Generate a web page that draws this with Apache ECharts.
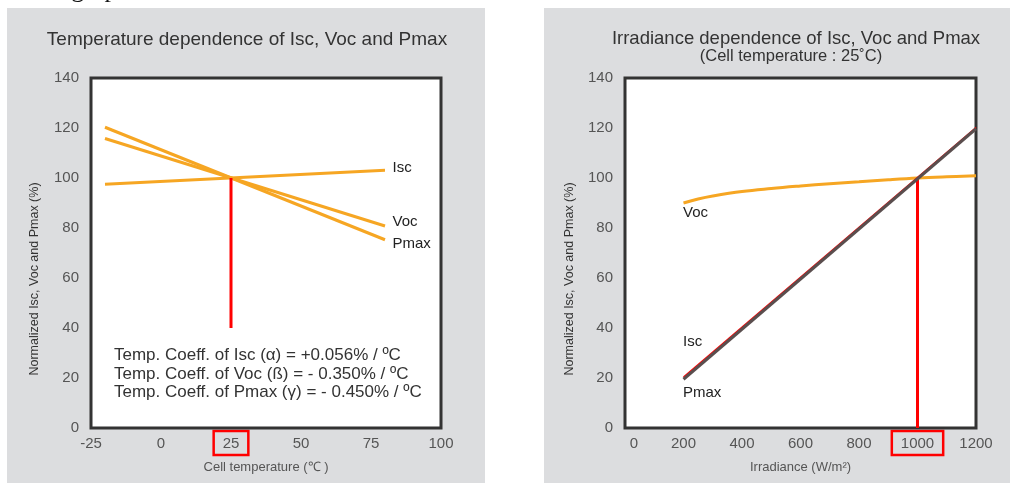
<!DOCTYPE html>
<html>
<head>
<meta charset="utf-8">
<script src="https://cdn.jsdelivr.net/npm/echarts@6/dist/echarts.min.js"></script>
<style>
  html, body { margin: 0; padding: 0; background: #fff; }
  #chart { width: 1010px; height: 483px; }
</style>
</head>
<body>
<div id="chart"></div>
<script>
// temperature chart (left)
var tempTicks = [-25, 0, 25, 50, 75, 100]
var tempIsc = [[-20, 97.5], [80, 103.1]]
var tempVoc = [[-20, 115.8], [80, 80.8]]
var tempPmax = [[-20, 120.3], [80, 75.3]]
var tempMarker = [[25, 40], [25, 100]]
var coeffLines = [
  'Temp. Coeff. of Isc (α) = +0.056% / ºC',
  'Temp. Coeff. of Voc (ß) = - 0.350% / ºC',
  'Temp. Coeff. of Pmax (γ) = - 0.450% / ºC'
]

// irradiance chart (right)
var irrTicks = [0, 200, 400, 600, 800, 1000, 1200]
var irrVoc = [[200, 90], [250, 91.6], [300, 92.8], [400, 94.6], [500, 95.8], [600, 96.8],
  [700, 97.7], [800, 98.5], [900, 99.3], [1000, 100], [1100, 100.5], [1200, 100.9]]
var irrIsc = [[200, 20.4], [1200, 120.2]]
var irrPmax = [[200, 19.5], [1200, 119.7]]
var irrMarker = [[1000, 0], [1000, 100]]

var yTicks = [0, 20, 40, 60, 80, 100, 120, 140]

var FONT = 'Liberation Sans, Arial, sans-serif'
var ORANGE = '#f6a623'
var RED = '#ff0000'
var DARK = '#5a4e4e'

var chart = echarts.init(document.getElementById('chart'))

function xLabel(hl, zeroPad) {
  return {
    color: '#555',
    fontFamily: FONT,
    fontSize: 15,
    margin: 3,
    formatter: function (v) {
      if (v === hl) return '{hl|' + v + '}'
      if (zeroPad && v === 0) return '{z|' + v + '}'
      return '{n|' + v + '}'
    },
    rich: {
      n: { color: '#555', fontSize: 15, fontFamily: FONT, padding: [5, 9, 4, 9], borderWidth: 2.5, borderColor: 'transparent' },
      z: { color: '#555', fontSize: 15, fontFamily: FONT, padding: [5, 9, 4, 27], borderWidth: 2.5, borderColor: 'transparent' },
      hl: { color: '#555', fontSize: 15, fontFamily: FONT, padding: [5, 9, 4, 9], borderWidth: 2.5, borderColor: RED }
    }
  }
}

function yAxis(idx) {
  return {
    type: 'value',
    gridIndex: idx,
    min: 0,
    max: 140,
    interval: 20,
    axisLine: { show: false },
    axisTick: { show: false },
    axisLabel: { color: '#555', fontFamily: FONT, fontSize: 15, margin: 12 },
    splitLine: { lineStyle: { color: '#888', width: 1 } }
  }
}

function endLabel(text, offset) {
  return { show: true, formatter: text, position: 'right', offset: offset, color: '#222', fontFamily: FONT, fontSize: 15 }
}

function withLabel(points, idx, label) {
  return points.map(function (p, i) {
    return i === idx ? { value: p, label: label, symbolSize: 1 } : { value: p }
  })
}

function lineSeries(xi, data, color, width, smooth) {
  return {
    type: 'line',
    xAxisIndex: xi,
    yAxisIndex: xi,
    data: data,
    smooth: smooth || false,
    symbol: 'circle',
    symbolSize: 0,
    showSymbol: true,
    itemStyle: { color: 'rgba(0,0,0,0)' },
    lineStyle: { color: color, width: width },
    label: { show: false },
    emphasis: { disabled: true },
    z: 3
  }
}

var coeffTexts = coeffLines.map(function (t, i) {
  return {
    type: 'text',
    left: 114,
    top: 347 + i * 18.5,
    z: 10,
    style: { text: t, fill: '#333', font: '17px ' + FONT }
  }
})

var option = {
  animation: false,
  backgroundColor: '#fff',
  graphic: [
    { type: 'rect', shape: { x: 7, y: 8, width: 478, height: 480 }, style: { fill: '#dcdddf' }, z: -10 },
    { type: 'rect', shape: { x: 544, y: 8, width: 470, height: 480 }, style: { fill: '#dcdddf' }, z: -10 },
    { type: 'text', left: 20, top: -23, style: { text: 'nted graphs.', fill: '#111', font: '26px Liberation Serif, serif' } },
    { type: 'rect', shape: { x: 104, y: 343, width: 326, height: 71 }, style: { fill: '#fff' }, z: 5 },
    {
      type: 'text', x: 35, y: 279, rotation: Math.PI / 2, z: 10,
      style: { text: 'Normalized Isc, Voc and Pmax (%)', fill: '#333', font: '12.5px ' + FONT, align: 'center', verticalAlign: 'middle' }
    },
    {
      type: 'text', x: 570, y: 279, rotation: Math.PI / 2, z: 10,
      style: { text: 'Normalized Isc, Voc and Pmax (%)', fill: '#333', font: '12.5px ' + FONT, align: 'center', verticalAlign: 'middle' }
    }
  ].concat(coeffTexts),
  title: [
    {
      text: 'Temperature dependence of Isc, Voc and Pmax',
      left: 242, top: 25, textAlign: 'center',
      textStyle: { color: '#333', fontFamily: FONT, fontSize: 19, fontWeight: 'normal' }
    },
    {
      text: 'Irradiance dependence of Isc, Voc and Pmax',
      left: 791, top: 24, textAlign: 'center',
      textStyle: { color: '#333', fontFamily: FONT, fontSize: 18.5, fontWeight: 'normal' }
    },
    {
      text: '(Cell temperature : 25˚C)',
      left: 786, top: 43, textAlign: 'center',
      textStyle: { color: '#333', fontFamily: FONT, fontSize: 16.5, fontWeight: 'normal' }
    }
  ],
  grid: [
    { left: 91, top: 78, width: 350, height: 350, show: true, backgroundColor: '#fff', borderColor: '#333', borderWidth: 3, z: 2 },
    { left: 625, top: 78, width: 351, height: 350, show: true, backgroundColor: '#fff', borderColor: '#333', borderWidth: 3, z: 2 }
  ],
  xAxis: [
    {
      type: 'value', gridIndex: 0, min: -25, max: 100, interval: 25,
      axisLine: { show: false }, axisTick: { show: false },
      axisLabel: xLabel(25, false),
      splitLine: { lineStyle: { color: '#888', width: 1 } },
      name: 'Cell temperature (℃ )', nameLocation: 'middle', nameGap: 32,
      nameTextStyle: { color: '#555', fontFamily: FONT, fontSize: 13 }
    },
    {
      type: 'value', gridIndex: 1, min: 0, max: 1200, interval: 200,
      axisLine: { show: false }, axisTick: { show: false },
      axisLabel: xLabel(1000, true),
      splitLine: { lineStyle: { color: '#888', width: 1 } },
      name: 'Irradiance (W/m²)', nameLocation: 'middle', nameGap: 32,
      nameTextStyle: { color: '#555', fontFamily: FONT, fontSize: 13 }
    }
  ],
  yAxis: [yAxis(0), yAxis(1)],
  series: [
    lineSeries(0, withLabel(tempIsc, 1, endLabel('Isc', [2, -2])), ORANGE, 3),
    lineSeries(0, withLabel(tempVoc, 1, endLabel('Voc', [2, -4])), ORANGE, 3),
    lineSeries(0, withLabel(tempPmax, 1, endLabel('Pmax', [2, 4])), ORANGE, 3),
    lineSeries(0, tempMarker, RED, 3),
    lineSeries(1, irrMarker, RED, 3),
    lineSeries(1, withLabel(irrVoc, 0, endLabel('Voc', [-6, 10])), ORANGE, 3, 0.4),
    lineSeries(1, withLabel(irrIsc, 0, endLabel('Isc', [-6, -35])), RED, 1.5),
    lineSeries(1, withLabel(irrPmax, 0, endLabel('Pmax', [-6, 14])), DARK, 3)
  ]
}

chart.setOption(option)
</script>
</body>
</html>
